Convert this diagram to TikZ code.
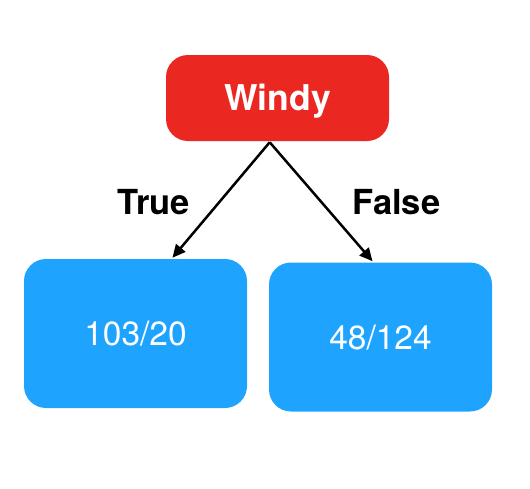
\documentclass[tikz,border=0pt]{standalone}
\usepackage{fontspec}
\setmainfont{TeX Gyre Heros}
\usepackage{xcolor}
\usetikzlibrary{arrows.meta}
\definecolor{WindyRed}{RGB}{234,39,33}
\definecolor{LeafBlue}{RGB}{30,164,255}

\begin{document}
\begin{tikzpicture}[x=1pt,y=-1pt,
    box/.style={rounded corners=22pt,inner sep=0pt,text=white,text depth=0pt},
    every path/.style={line width=2.5pt},
    >={Triangle[length=13pt,width=12pt]}]
          \useasboundingbox (0,0) rectangle (530,488);
          \node[box,fill=WindyRed,minimum width=223pt,minimum height=86pt,text height=25.5pt,font=\fontsize{35.5}{40}\selectfont\bfseries] (windy) at (277.5,98) {Windy};
          \node[box,fill=LeafBlue,minimum width=223pt,minimum height=149pt,text height=24pt,font=\fontsize{33.5}{38}\selectfont] (left) at (135.5,333.5) {103/20};
          \node[box,fill=LeafBlue,minimum width=223pt,minimum height=149pt,text height=24pt,font=\fontsize{33.5}{38}\selectfont] (right) at (380.5,337) {48/124};
          \node[font=\fontsize{34.5}{40}\selectfont\bfseries,text height=25pt,text depth=0pt,inner sep=0pt] (true) at (153.5,202) {True};
          \node[font=\fontsize{34.5}{40}\selectfont\bfseries,text height=25pt,text depth=0pt,inner sep=0pt] (false) at (396.5,202) {False};

          \draw[->] (windy.-100) -- (left.64);
          \draw[->] (windy.-100) -- (right.96);
        \end{tikzpicture}
\end{document}
